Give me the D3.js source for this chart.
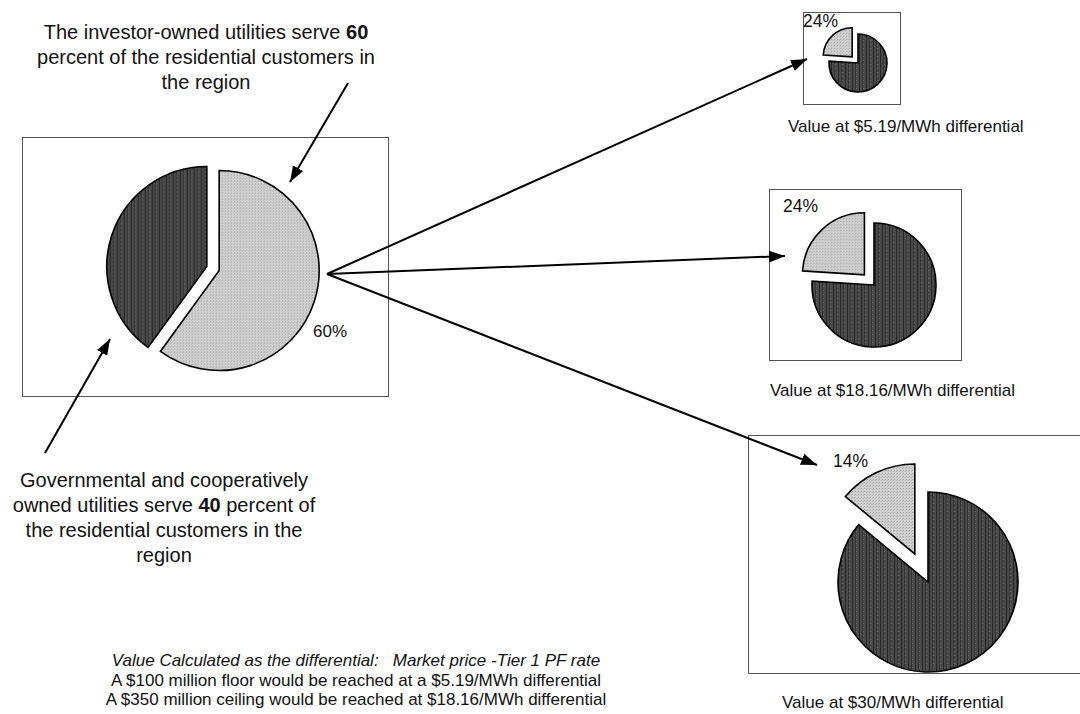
<!DOCTYPE html>
<html><head><meta charset="utf-8">
<script src="https://cdn.jsdelivr.net/npm/d3@7"></script>
<style>
body{margin:0;background:#fff}
svg{display:block}
text{font-family:"Liberation Sans",Arial,Helvetica,sans-serif;fill:#111}
</style>
</head><body>
<svg id="chart" width="1080" height="714"></svg>
<script>
// ---------- data ----------
const mainCategories = ["Investor-owned utilities", "Governmental and cooperative utilities"];
const mainShares = [60, 40];
const mainPctLabel = "60%";

const scenarioLabels = [
  "Value at $5.19/MWh differential",
  "Value at $18.16/MWh differential",
  "Value at $30/MWh differential"
];
const scenarioDarkShares = [76, 76, 86];
const scenarioLightShares = [24, 24, 14];
const scenarioPctLabels = ["24%", "24%", "14%"];

const topNoteLines = ["The investor-owned utilities serve {60}", "percent of the residential customers in", "the region"];
const leftNoteLines = ["Governmental and cooperatively", "owned utilities serve {40} percent of", "the residential customers in the", "region"];
const footnoteLines = [
  "Value Calculated as the differential:   Market price -Tier 1 PF rate",
  "A $100 million floor would be reached at a $5.19/MWh differential",
  "A $350 million ceiling would be reached at $18.16/MWh differential"
];

// ---------- drawing ----------
const svg = d3.select("#chart");

const defs = svg.append("defs");
// dithered light fill
const pl = defs.append("pattern").attr("id", "lightFill").attr("patternUnits", "userSpaceOnUse")
  .attr("width", 3).attr("height", 3);
pl.append("rect").attr("width", 3).attr("height", 3).attr("fill", "#d2d2d2");
pl.append("rect").attr("x", 0).attr("y", 0).attr("width", 1).attr("height", 1).attr("fill", "#9a9a9a");
pl.append("rect").attr("x", 2).attr("y", 1).attr("width", 1).attr("height", 1).attr("fill", "#b0b0b0");
// streaked dark fill
const pd = defs.append("pattern").attr("id", "darkFill").attr("patternUnits", "userSpaceOnUse")
  .attr("width", 7).attr("height", 4);
pd.append("rect").attr("width", 7).attr("height", 4).attr("fill", "#4a4a4a");
pd.append("rect").attr("x", 1).attr("y", 0).attr("width", 1).attr("height", 4).attr("fill", "#262626");
pd.append("rect").attr("x", 4).attr("y", 0).attr("width", 1).attr("height", 4).attr("fill", "#333");
pd.append("rect").attr("x", 5).attr("y", 1).attr("width", 1).attr("height", 1).attr("fill", "#6a6a6a");
const LIGHT = "url(#lightFill)", DARK = "url(#darkFill)";

defs.append("marker").attr("id", "ah")
  .attr("markerUnits", "userSpaceOnUse")
  .attr("viewBox", "0 0 15 11").attr("refX", 15).attr("refY", 5.5)
  .attr("markerWidth", 16).attr("markerHeight", 12).attr("orient", "auto")
  .append("path").attr("d", "M0,0L15,5.5L0,11Z").attr("fill", "#000");

function box(x0, y0, x1, y1) {
  svg.append("rect").attr("x", x0 + 0.5).attr("y", y0 + 0.5)
    .attr("width", x1 - x0).attr("height", y1 - y0)
    .attr("fill", "none").attr("stroke", "#555").attr("stroke-width", 1);
}

function drawPie(values, colors, cx, cy, r, explode) {
  const pie = d3.pie().sort(null).startAngle(0).endAngle(2 * Math.PI);
  const arc = d3.arc().innerRadius(0).outerRadius(r);
  const color = d3.scaleOrdinal().domain(d3.range(values.length)).range(colors);
  const g = svg.append("g").attr("transform", `translate(${cx},${cy})`);
  g.selectAll("path").data(pie(values)).join("path")
    .attr("d", arc)
    .attr("transform", (d, i) => {
      const a = (d.startAngle + d.endAngle) / 2, e = explode[i];
      return `translate(${e * Math.sin(a)},${-e * Math.cos(a)})`;
    })
    .attr("fill", (d, i) => color(i))
    .attr("stroke", "#000").attr("stroke-width", 1.6).attr("stroke-linejoin", "miter");
}

function richLine(sel, str) {
  str.split(/(\{[^}]*\})/).forEach(part => {
    if (!part) return;
    if (part.startsWith("{")) sel.append("tspan").attr("font-weight", "bold").text(part.slice(1, -1));
    else sel.append("tspan").text(part);
  });
}

function textBlock(lines, x, y0, dy, size, opts = {}) {
  lines.forEach((ln, i) => {
    const t = svg.append("text").attr("x", x).attr("y", y0 + i * dy)
      .attr("text-anchor", "middle").attr("font-size", size)
      .style("white-space", "pre");
    if (opts.italicFirst && i === 0) t.attr("font-style", "italic");
    richLine(t, ln);
  });
}

function arrow(x1, y1, x2, y2) {
  svg.append("line").attr("x1", x1).attr("y1", y1).attr("x2", x2).attr("y2", y2)
    .attr("stroke", "#000").attr("stroke-width", 2).attr("marker-end", "url(#ah)");
}

// main chart
box(22, 137, 388, 396);
drawPie(mainShares, [LIGHT, DARK], 213, 268.5, 100, [6.5, 6.5]);
svg.append("text").attr("x", 313).attr("y", 337).attr("font-size", 17).text(mainPctLabel);

// scenario charts
const scen = [
  {box: [803, 12, 900, 104], cx: 858, cy: 63, r: 29, ex: 8.5, pct: [803, 27], lab: [788, 132]},
  {box: [769, 189, 961, 360], cx: 874, cy: 285, r: 62, ex: 14, pct: [783, 212], lab: [770, 396]},
  {box: [748, 435, 1090, 673], cx: 928, cy: 582, r: 90, ex: 31, pct: [833, 467], lab: [782, 708]}
];
scen.forEach((s, i) => {
  box(...s.box);
  drawPie([scenarioDarkShares[i], scenarioLightShares[i]], [DARK, LIGHT], s.cx, s.cy, s.r, [0, s.ex]);
  svg.append("text").attr("x", s.pct[0]).attr("y", s.pct[1]).attr("font-size", 17.5).text(scenarioPctLabels[i]);
  svg.append("text").attr("x", s.lab[0]).attr("y", s.lab[1]).attr("font-size", 17).text(scenarioLabels[i]);
});

// annotations
textBlock(topNoteLines, 206, 39, 25, 20);
textBlock(leftNoteLines, 164, 487, 25, 20);
textBlock(footnoteLines, 356, 666, 19.5, 17, {italicFirst: true});

// arrows
arrow(348, 83, 290, 182);
arrow(45, 453, 110, 339);
arrow(327, 274, 807, 59);
arrow(327, 274, 785, 256);
arrow(327, 274, 817, 465);
</script>
</body></html>
